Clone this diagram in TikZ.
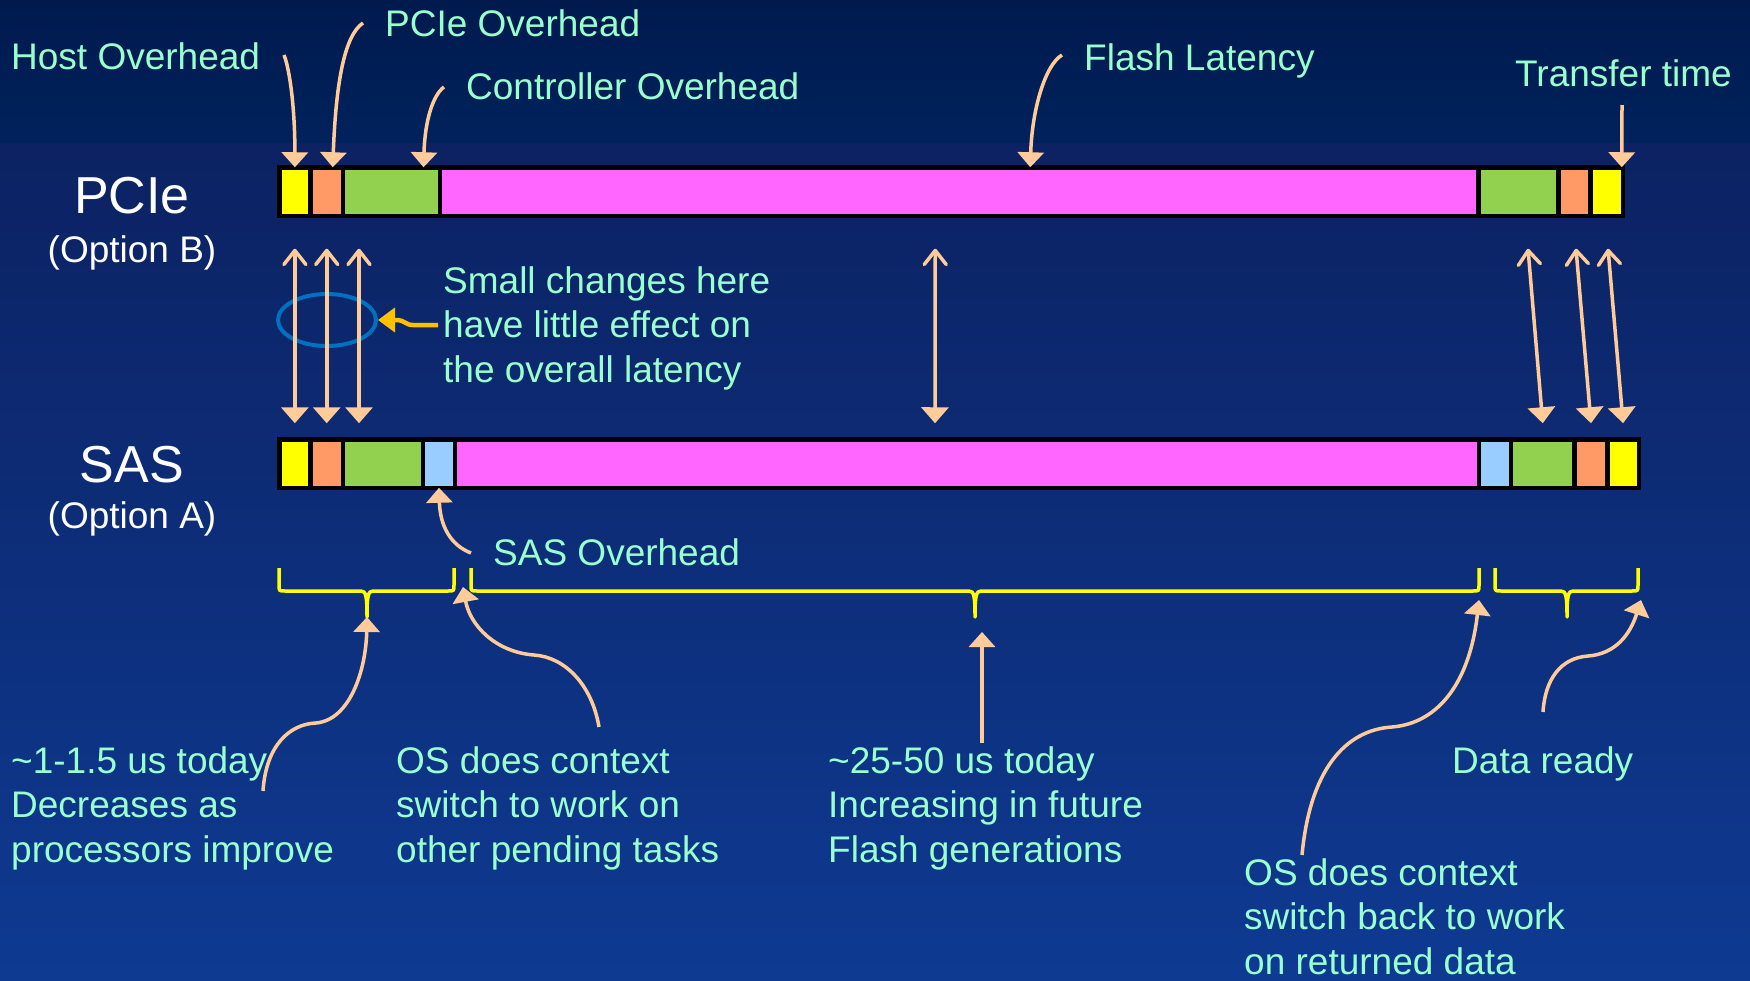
\documentclass[tikz,border=0pt]{standalone}
\usepackage{fontspec}
\setmainfont{Liberation Sans}
\usetikzlibrary{arrows.meta,shapes.geometric}
\definecolor{bgtopA}{HTML}{001A4E}
\definecolor{bgtopB}{HTML}{00225C}
\definecolor{bgA}{HTML}{0C2262}
\definecolor{bgB}{HTML}{0E3A92}
\definecolor{lblcol}{HTML}{99FFCC}
\definecolor{arrcol}{HTML}{FFCC99}
\definecolor{goldcol}{HTML}{FFC000}
\definecolor{ellcol}{HTML}{0070C0}
\definecolor{segY}{HTML}{FFFF00}
\definecolor{segO}{HTML}{FF9966}
\definecolor{segG}{HTML}{92D050}
\definecolor{segM}{HTML}{FF66FF}
\definecolor{segB}{HTML}{99CCFF}
\definecolor{brcol}{HTML}{FFFF00}
\newcommand\ybrace[3]{\draw[bracestyle] (#1,568) -- (#1,585) .. controls (#1,591) .. (#1+6,591) -- (#2-6,591) .. controls (#2-1,591) and (#2,596) .. (#2,617) .. controls (#2,596) and (#2+1,591) .. (#2+6,591) -- (#3-6,591) .. controls (#3,591) .. (#3,585) -- (#3,568);}
\newcommand\barseg[5]{\node[segbox, fill=#5, minimum width={#3pt-#2pt}] (#1) at (#2,#4) {};}
\begin{document}
\begin{tikzpicture}[x=1pt,y=-1pt,
  lbl/.style={text=lblcol, font=\fontsize{37}{44.5}\selectfont, inner sep=0pt, anchor=base west, align=left},
  big/.style={text=white, font=\fontsize{52}{60}\selectfont, inner sep=0pt, anchor=base},
  opt/.style={text=white, font=\fontsize{37}{44.5}\selectfont, inner sep=0pt, anchor=base},
  segbox/.style={draw=black, line width=4.5pt, minimum height=48.5pt, inner sep=0pt, outer sep=0pt, anchor=west},
  lblarrow/.style={draw=arrcol, line width=3.5pt, -{Triangle[width=26pt,length=15pt]}},
  dblarrow/.style={draw=arrcol, line width=3.5pt, {Straight Barb[width=22pt,length=14pt,round]}-{Triangle[width=27pt,length=16pt]}},
  goldarrow/.style={draw=goldcol, line width=4.5pt, -{Triangle[width=24pt,length=17pt]}},
  bracestyle/.style={draw=brcol, line width=3.5pt, line join=round}]
\shade[top color=bgtopA, bottom color=bgtopB] (0,0) rectangle (1750,143);
\shade[top color=bgA, bottom color=bgB] (0,143) rectangle (1750,980);
\useasboundingbox (0,0) rectangle (1750,980);

% PCIe bar
\barseg{pY1}{279.25}{310.5}{191.5}{segY}
\barseg{pO1}{310.5}{343}{191.5}{segO}
\barseg{pG1}{343}{440}{191.5}{segG}
\barseg{pM}{440}{1478.5}{191.5}{segM}
\barseg{pG2}{1478.5}{1558.5}{191.5}{segG}
\barseg{pO2}{1558.5}{1590.5}{191.5}{segO}
\barseg{pY2}{1590.5}{1622.75}{191.5}{segY}
% SAS bar
\barseg{sY1}{279.25}{310.5}{463.5}{segY}
\barseg{sO1}{310.5}{343}{463.5}{segO}
\barseg{sG1}{343}{423}{463.5}{segG}
\barseg{sB1}{423}{455}{463.5}{segB}
\barseg{sM}{455}{1479}{463.5}{segM}
\barseg{sB2}{1479}{1511}{463.5}{segB}
\barseg{sG2}{1511}{1574.5}{463.5}{segG}
\barseg{sO2}{1574.5}{1607.5}{463.5}{segO}
\barseg{sY2}{1607.5}{1638.75}{463.5}{segY}

% labels (multi-line nodes: base = last line)
\node[lbl] (hostL) at (11,69) {Host Overhead};
\node[lbl] (pcieL) at (385,36) {PCIe Overhead};
\node[lbl] (ctrlL) at (466,99) {Controller Overhead};
\node[lbl] (flashL) at (1084,70) {Flash Latency};
\node[lbl] (xferL) at (1515,86) {Transfer time};
\node[big] (pcieT) at (132,213) {PCIe};
\node[opt] (optB) at (132,262) {(Option B)};
\node[big] (sasT) at (132,482) {SAS};
\node[opt] (optA) at (132,528) {(Option A)};
\node[lbl] (smallL) at (443,382) {Small changes here\\have little effect on\\the overall latency};
\node[lbl] (sasL) at (493,565) {SAS Overhead};
\node[lbl] (hostT) at (11,862) {\textasciitilde1-1.5 us today\\Decreases as\\processors improve};
\node[lbl] (osL) at (396,862) {OS does context\\switch to work on\\other pending tasks};
\node[lbl] (flashT) at (828,862) {\textasciitilde25-50 us today\\Increasing in future\\Flash generations};
\node[lbl] (readyL) at (1452,773) {Data ready};
\node[lbl] (osBackL) at (1244,974) {OS does context\\switch back to work\\on returned data};

% ellipse
\node[ellipse, draw=ellcol, line width=4pt, minimum width=98pt, minimum height=52pt, inner sep=0pt] (ell) at (327,320) {};

% double arrows between bars
\draw[dblarrow] ([yshift=-33pt]pY1.south) -- ([yshift=16pt]sY1.north);
\draw[dblarrow] ([yshift=-33pt]pO1.south) -- ([yshift=16pt]sO1.north);
\draw[dblarrow] ([xshift=16pt,yshift=-33pt]pG1.south west) -- ([xshift=16pt,yshift=16pt]sG1.north west);
\draw[dblarrow] ([xshift=-24pt,yshift=-33pt]pM.south) -- ([xshift=-32pt,yshift=16pt]sM.north);
\draw[dblarrow] ([xshift=9.5pt,yshift=-33pt]pG2.south) -- ([yshift=16pt]sG2.north);
\draw[dblarrow] ([xshift=1.5pt,yshift=-33pt]pO2.south) -- ([yshift=16pt]sO2.north);
\draw[dblarrow] ([xshift=1.4pt,yshift=-33pt]pY2.south) -- ([yshift=16pt]sY2.north);

% gold arrow
\coordinate (goldS) at (438,325);
\draw[goldarrow] (goldS) -- (413,325) .. controls (405,325) and (405,320) .. (396,320) -- (ell.east);

% top label arrows
\coordinate (hostS) at (284,55);
\coordinate (pcieS) at (363,23);
\coordinate (ctrlS) at (444,87);
\coordinate (flashS) at (1062,55);
\coordinate (xferS) at (1622,105);
\draw[lblarrow] (hostS) .. controls (290,70) and (295,110) .. (pY1.north);
\draw[lblarrow] (pcieS) .. controls (345,35) and (336,80) .. ([xshift=6pt]pO1.north);
\draw[lblarrow] (ctrlS) .. controls (433,95) and (425,120) .. ([xshift=32pt]pG1.north);
\draw[lblarrow] (flashS) .. controls (1045,65) and (1032,110) .. ([xshift=71pt]pM.north);
\draw[lblarrow] (xferS) -- ([xshift=-1pt]pY2.north east);

% SAS overhead arrow
\coordinate (sasS) at (471,553);
\draw[lblarrow] (sasS) .. controls (450,545) and (440,525) .. (sB1.south);

% braces
\ybrace{279}{367}{454}
\ybrace{471}{975}{1479}
\ybrace{1495}{1567}{1638}

% bottom arrows
\coordinate (a1S) at (263,791);
\coordinate (a1T) at (367,617);
\coordinate (a2S) at (599,727);
\coordinate (a2T) at (463,587);
\coordinate (a3S) at (982,743);
\coordinate (a3T) at (982,632);
\coordinate (a4S) at (1302,855);
\coordinate (a4T) at (1479,600);
\coordinate (a5S) at (1543,712);
\coordinate (a5T) at (1641,600);
\draw[lblarrow] (a1S) .. controls (266,745) and (290,724) .. (316,723) .. controls (350,720) and (366,670) .. (a1T);
\draw[lblarrow] (a2S) .. controls (592,685) and (565,657) .. (534,655) .. controls (495,652) and (470,625) .. (a2T);
\draw[lblarrow] (a3S) -- (a3T);
\draw[lblarrow] (a4S) .. controls (1310,770) and (1345,730) .. (1392,727) .. controls (1440,723) and (1470,680) .. (a4T);
\draw[lblarrow] (a5S) .. controls (1545,680) and (1560,658) .. (1588,656) .. controls (1615,654) and (1630,635) .. (a5T);
\end{tikzpicture}
\end{document}
